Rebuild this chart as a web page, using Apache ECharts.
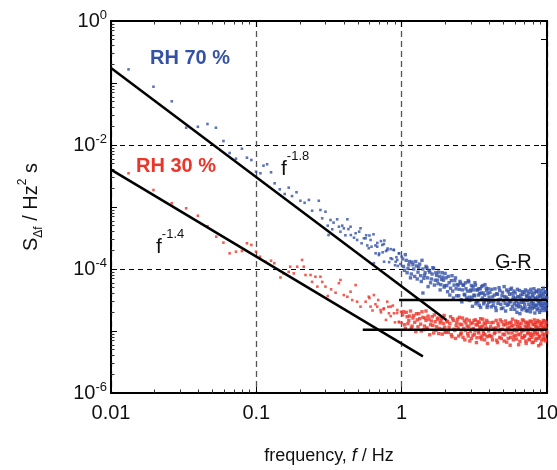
<!DOCTYPE html>
<html>
<head>
<meta charset="utf-8">
<script src="https://cdn.jsdelivr.net/npm/echarts@6/dist/echarts.min.js"></script>
<style>
  html, body { margin: 0; padding: 0; background: #fff; }
  #chart { width: 557px; height: 470px; }
</style>
</head>
<body>
<div id="chart"></div>
<script>
// spectrum points: [frequency Hz, S Hz^2 s]
const rh70 = [
  [0.0132, 0.166], [0.0196, 0.0871], [0.0262, 0.0507], [0.0329, 0.019], [0.0396, 0.0197],
  [0.0461, 0.0218], [0.0527, 0.019], [0.0594, 0.0116], [0.0655, 0.00743], [0.0724, 0.00601],
  [0.0796, 0.00871], [0.0862, 0.00624], [0.0924, 0.00573], [0.0995, 0.00371],
  [0.1067, 0.0035], [0.112, 0.00464], [0.1186, 0.00489], [0.1262, 0.00363], [0.1336, 0.00241],
  [0.1449, 0.00193], [0.1567, 0.00162], [0.167, 0.00205], [0.176, 0.0015], [0.189, 0.00173],
  [0.201, 0.00126], [0.215, 0.00117], [0.23, 0.0013], [0.242, 0.00087], [0.269, 0.00126],
  [0.276, 0.000895], [0.284, 0.000657], [0.299, 0.00084], [0.314, 0.000353], [0.324, 0.000617],
  [0.333, 0.000437], [0.36, 0.000634], [0.37, 0.000481], [0.379, 0.0004], [0.4, 0.000453],
  [0.423, 0.000634], [0.445, 0.000481], [0.447, 0.000353], [0.482, 0.000377], [0.494, 0.000294],
  [0.521, 0.000453], [0.55, 0.000313], [0.565, 0.000313], [0.594, 0.000216], [0.611, 0.000294],
  [0.644, 0.000124], [0.662, 0.000179], [0.679, 0.000229], [0.697, 0.000168], [0.736, 0.000244],
  [0.755, 0.000253], [0.757, 0.000131], [0.796, 0.000202], [0.84, 0.000149], [0.885, 0.000202],
  [0.91, 0.000131], [0.933, 0.00014], [0.957, 0.000179],
  [0.31, 0.0005], [0.34, 0.00056], [0.39, 0.0005], [0.41, 0.00035], [0.43, 0.00044],
  [0.47, 0.00032], [0.51, 0.0004], [0.53, 0.00026], [0.57, 0.00035], [0.58, 0.00024],
  [0.60, 3.47e-4], [0.62, 2.29e-4], [0.64, 3.63e-4], [0.66, 2.4e-4], [0.68, 2.63e-4],
  [0.70, 1.78e-4], [0.72, 2.82e-4], [0.74, 1.86e-4], [0.76, 2.88e-4], [0.78, 1.95e-4],
  [0.80, 2.14e-4], [0.82, 1.29e-4], [0.84, 2.09e-4], [0.86, 1.45e-4], [0.88, 2.04e-4],
  [0.90, 1.15e-4], [0.92, 1.55e-4], [0.94, 1.12e-4], [0.96, 1.78e-4], [0.98, 1.2e-4],
  [1.00, 1.58e-4], [1.03, 1.1e-4], [1.06, 1.7e-4], [1.09, 8.7e-5], [1.12, 1.17e-4],
  [1.15, 7.2e-5], [1.18, 1.29e-4], [1.21, 1.0e-4], [1.25, 1.32e-4], [1.28, 6.9e-5],
  [1.31, 1.07e-4], [1.35, 7.8e-5], [1.38, 1.38e-4], [1.42, 7.1e-5], [1.45, 8.7e-5],
  [1.49, 1.05e-4], [1.52, 5.2e-5], [1.56, 8.9e-5], [1.60, 6.9e-5], [1.64, 1.05e-4],
  [1.68, 5.5e-5], [1.72, 8.7e-5], [1.76, 6.6e-5], [1.80, 8.9e-5], [1.84, 4.6e-5],
  [1.88, 6.8e-5], [1.92, 7.4e-5], [1.96, 5.1e-5], [1.99, 8.5e-5], [1.40, 4.1e-5],
  [2.02, 7.2e-5], [2.07, 4.3e-5], [2.12, 6.0e-5], [2.17, 4.9e-5], [2.22, 7.8e-5],
  [2.27, 3.4e-5], [2.32, 6.5e-5], [2.37, 4.8e-5], [2.42, 5.6e-5], [2.47, 3.7e-5],
  [2.52, 6.3e-5], [2.57, 3.2e-5], [2.62, 4.6e-5], [2.67, 5.5e-5], [2.72, 3.8e-5],
  [2.77, 4.8e-5], [2.82, 3.2e-5], [2.87, 6.5e-5], [2.92, 3.5e-5], [2.97, 4.4e-5],
  [3.02, 5.4e-5], [3.07, 2.5e-5], [3.12, 4.6e-5], [3.17, 3.7e-5], [3.22, 5.5e-5],
  [3.27, 3.0e-5], [3.32, 4.6e-5], [3.37, 3.8e-5], [3.42, 2.6e-5], [3.47, 4.8e-5],
  [3.52, 4.1e-5], [3.57, 3.2e-5], [3.62, 5.4e-5], [3.67, 2.75e-5], [3.72, 3.8e-5],
  [3.77, 3.2e-5], [3.82, 4.9e-5], [3.87, 2.4e-5], [3.92, 4.0e-5], [3.97, 2.9e-5],
  [4.05, 4.2e-5], [4.13, 2.45e-5], [4.22, 3.55e-5], [4.30, 2.95e-5], [4.39, 4.8e-5],
  [4.47, 2.14e-5], [4.56, 3.9e-5], [4.64, 3.16e-5], [4.73, 4.5e-5], [4.81, 2.7e-5],
  [4.90, 3.7e-5], [4.98, 2.35e-5], [5.07, 5.2e-5], [5.15, 2.8e-5], [5.24, 3.5e-5],
  [5.32, 2.6e-5], [5.41, 4.3e-5], [5.49, 3.0e-5], [5.58, 4.7e-5], [5.66, 2.24e-5],
  [5.75, 4.0e-5], [5.83, 3.24e-5], [5.92, 4.4e-5], [6.00, 2.24e-5], [6.09, 3.4e-5],
  [6.17, 2.6e-5], [6.26, 4.7e-5], [6.34, 2.45e-5], [6.43, 3.55e-5], [6.51, 1.9e-5],
  [6.60, 3.8e-5], [6.68, 2.9e-5], [6.77, 4.3e-5], [6.85, 2.35e-5], [6.94, 3.16e-5],
  [7.02, 2.7e-5], [7.11, 4.6e-5], [7.19, 2.14e-5], [7.28, 3.6e-5], [7.36, 3.1e-5],
  [7.45, 4.0e-5], [7.53, 2.3e-5], [7.62, 3.4e-5], [7.70, 2.04e-5], [7.79, 4.2e-5],
  [7.87, 2.75e-5], [7.96, 3.8e-5], [8.04, 2.5e-5], [8.13, 4.8e-5], [8.21, 2.4e-5],
  [8.30, 3.3e-5], [8.38, 2.6e-5], [8.47, 4.4e-5], [8.55, 2.2e-5], [8.64, 3.55e-5],
  [8.72, 2.95e-5], [8.81, 4.1e-5], [8.89, 2.0e-5], [8.98, 3.7e-5], [9.06, 2.6e-5],
  [9.15, 4.5e-5], [9.23, 2.35e-5], [9.32, 3.24e-5], [9.40, 2.8e-5], [9.49, 3.9e-5],
  [9.57, 2.14e-5], [9.66, 4.3e-5], [9.74, 2.45e-5], [9.83, 3.5e-5], [9.91, 2.7e-5]
];

// extra points in the crowded 1-10 Hz band
const rh70Band = [
  [1.015, 1.45e-4], [1.045, 9.5e-5], [1.075, 1.38e-4], [1.105, 1.02e-4], [1.135, 1.32e-4],
  [1.165, 8.3e-5], [1.195, 1.17e-4], [1.23, 7.6e-5], [1.265, 1.12e-4], [1.295, 8.9e-5],
  [1.33, 1.2e-4], [1.365, 6.3e-5], [1.40, 1.0e-4], [1.435, 7.9e-5], [1.47, 1.1e-4],
  [1.505, 7.2e-5], [1.54, 9.5e-5], [1.58, 6.0e-5], [1.62, 8.3e-5], [1.66, 1.02e-4],
  [1.70, 6.6e-5], [1.74, 7.9e-5], [1.78, 5.8e-5], [1.82, 7.6e-5], [1.86, 5.6e-5],
  [1.90, 8.7e-5], [1.94, 6.6e-5], [1.98, 5.4e-5],
  [2.045, 5.4e-5], [2.095, 7.6e-5], [2.145, 3.8e-5], [2.195, 6.5e-5], [2.245, 4.4e-5],
  [2.295, 5.5e-5], [2.345, 7.2e-5], [2.395, 3.7e-5], [2.445, 5.5e-5], [2.495, 4.7e-5],
  [2.545, 5.9e-5], [2.595, 2.95e-5], [2.645, 5.5e-5], [2.695, 3.9e-5], [2.745, 6.0e-5],
  [2.795, 3.4e-5], [2.845, 4.4e-5], [2.895, 6.2e-5], [2.945, 3.1e-5], [2.995, 4.6e-5],
  [3.045, 3.5e-5], [3.095, 5.2e-5], [3.145, 3.8e-5], [3.195, 6.0e-5], [3.245, 2.75e-5],
  [3.295, 4.6e-5], [3.345, 2.95e-5], [3.395, 4.8e-5], [3.445, 4.0e-5], [3.495, 2.4e-5],
  [3.545, 5.2e-5], [3.595, 3.4e-5], [3.645, 4.1e-5], [3.695, 2.95e-5], [3.745, 5.6e-5],
  [3.795, 3.16e-5], [3.845, 4.5e-5], [3.895, 2.6e-5], [3.945, 4.8e-5], [3.995, 3.5e-5],
  [4.09, 3.0e-5], [4.17, 4.7e-5], [4.26, 2.6e-5], [4.34, 3.8e-5], [4.43, 2.4e-5],
  [4.51, 4.0e-5], [4.60, 2.8e-5], [4.68, 5.0e-5], [4.77, 3.24e-5], [4.85, 2.3e-5],
  [4.94, 4.2e-5], [5.02, 3.1e-5], [5.11, 3.6e-5], [5.19, 2.1e-5], [5.28, 4.6e-5],
  [5.36, 3.3e-5], [5.45, 2.7e-5], [5.53, 3.9e-5], [5.62, 2.95e-5], [5.70, 4.9e-5],
  [5.79, 2.5e-5], [5.87, 3.55e-5], [5.96, 2.75e-5], [6.04, 4.1e-5], [6.13, 3.0e-5],
  [6.21, 2.0e-5], [6.30, 3.6e-5], [6.38, 2.8e-5], [6.47, 4.5e-5], [6.55, 2.5e-5],
  [6.64, 3.3e-5], [6.72, 2.2e-5], [6.81, 3.9e-5], [6.89, 2.95e-5], [6.98, 4.2e-5],
  [7.06, 2.4e-5], [7.15, 3.16e-5], [7.23, 3.7e-5], [7.32, 2.1e-5], [7.40, 4.4e-5],
  [7.49, 2.7e-5], [7.57, 3.5e-5], [7.66, 2.45e-5], [7.74, 4.7e-5], [7.83, 3.0e-5],
  [7.91, 2.3e-5], [8.00, 3.55e-5], [8.08, 2.8e-5], [8.17, 4.1e-5], [8.25, 1.95e-5],
  [8.34, 3.4e-5], [8.42, 4.3e-5], [8.51, 2.6e-5], [8.59, 3.16e-5], [8.68, 2.3e-5],
  [8.76, 4.6e-5], [8.85, 2.75e-5], [8.93, 3.6e-5], [9.02, 2.95e-5], [9.10, 2.14e-5],
  [9.19, 4.0e-5], [9.27, 2.6e-5], [9.36, 3.5e-5], [9.44, 4.9e-5], [9.53, 2.4e-5],
  [9.61, 3.24e-5], [9.70, 2.8e-5], [9.78, 4.2e-5], [9.87, 2.24e-5], [9.95, 3.4e-5]
];

const rh30 = [
  [0.0132, 0.0035], [0.0196, 0.00188], [0.0262, 0.00115], [0.0329, 0.000953], [0.0396, 0.000724],
  [0.0461, 0.00049], [0.053, 0.000332], [0.0594, 0.000266], [0.0655, 0.000179], [0.0724, 0.00019],
  [0.0796, 0.000195], [0.0862, 0.00026], [0.0924, 0.000244], [0.0995, 0.00019],
  [0.106, 0.000158], [0.1153, 0.000131], [0.1262, 0.000136], [0.133, 0.000124], [0.1466, 7.3e-5],
  [0.154, 8.5e-5], [0.167, 9.0e-5], [0.171, 0.000109], [0.181, 8.5e-5], [0.191, 0.000109],
  [0.2065, 0.00014], [0.212, 0.000109], [0.218, 8.0e-5], [0.236, 8.0e-5], [0.242, 6.2e-5],
  [0.255, 7.5e-5], [0.263, 5.2e-5], [0.276, 7.5e-5], [0.284, 6.2e-5], [0.299, 5.2e-5],
  [0.31, 3.67e-5], [0.327, 4.7e-5], [0.351, 4.15e-5], [0.37, 5.9e-5], [0.379, 6.65e-5],
  [0.4, 3.8e-5], [0.423, 3.57e-5], [0.445, 4.3e-5], [0.457, 3.16e-5], [0.482, 5.5e-5],
  [0.494, 2.97e-5], [0.521, 2.47e-5], [0.565, 2.97e-5], [0.594, 3.57e-5], [0.611, 2.47e-5],
  [0.644, 3.8e-5], [0.679, 2.47e-5], [0.716, 2.18e-5], [0.755, 2.32e-5], [0.796, 2.97e-5],
  [0.817, 1.93e-5], [0.84, 2.47e-5], [0.885, 1.93e-5], [0.933, 2.18e-5], [0.957, 1.41e-5],
  [0.60, 3.4e-5], [0.63, 2.14e-5], [0.66, 2.7e-5], [0.69, 3.16e-5], [0.72, 2.0e-5],
  [0.75, 2.24e-5], [0.78, 1.51e-5], [0.81, 2.45e-5], [0.84, 1.74e-5], [0.87, 2.57e-5],
  [0.90, 1.38e-5], [0.93, 1.95e-5], [0.96, 1.38e-5], [0.99, 2.04e-5],
  [1.00, 1.35e-5], [1.03, 2.04e-5], [1.06, 1.1e-5], [1.09, 1.7e-5], [1.12, 1.48e-5],
  [1.15, 2.1e-5], [1.18, 1.2e-5], [1.21, 1.78e-5], [1.25, 9.8e-6], [1.28, 1.51e-5],
  [1.31, 1.9e-5], [1.35, 1.29e-5], [1.38, 2.04e-5], [1.42, 1.05e-5], [1.45, 1.62e-5],
  [1.49, 1.12e-5], [1.52, 1.74e-5], [1.56, 8.7e-6], [1.60, 1.45e-5], [1.64, 1.23e-5],
  [1.68, 1.82e-5], [1.72, 1.02e-5], [1.76, 1.55e-5], [1.80, 9.1e-6], [1.84, 1.35e-5],
  [1.88, 1.58e-5], [1.92, 1.07e-5], [1.96, 1.78e-5], [1.99, 9.5e-6], [1.47, 2.1e-5],
  [2.02, 9.8e-6], [2.07, 1.41e-5], [2.12, 1.15e-5], [2.17, 1.7e-5], [2.22, 8.1e-6],
  [2.27, 1.48e-5], [2.32, 1.02e-5], [2.37, 1.23e-5], [2.42, 1.55e-5], [2.47, 8.3e-6],
  [2.52, 1.29e-5], [2.57, 9.3e-6], [2.62, 1.62e-5], [2.67, 1.1e-5], [2.72, 7.2e-6],
  [2.77, 1.35e-5], [2.82, 1.2e-5], [2.87, 8.3e-6], [2.92, 1.48e-5], [2.97, 9.8e-6],
  [3.02, 7.6e-6], [3.07, 1.35e-5], [3.12, 1.1e-5], [3.17, 8.9e-6], [3.22, 1.51e-5],
  [3.27, 6.5e-6], [3.32, 1.26e-5], [3.37, 9.8e-6], [3.42, 1.38e-5], [3.47, 7.9e-6],
  [3.52, 1.15e-5], [3.57, 8.3e-6], [3.62, 1.55e-5], [3.67, 9.1e-6], [3.72, 7.2e-6],
  [3.77, 1.29e-5], [3.82, 1.1e-5], [3.87, 8.1e-6], [3.92, 1.38e-5], [3.97, 1.0e-5],
  [4.05, 8.5e-6], [4.13, 1.35e-5], [4.22, 7.2e-6], [4.30, 1.1e-5], [4.39, 9.5e-6],
  [4.47, 1.48e-5], [4.56, 6.5e-6], [4.64, 1.2e-5], [4.73, 7.9e-6], [4.81, 1.05e-5],
  [4.90, 1.41e-5], [4.98, 8.9e-6], [5.07, 6.9e-6], [5.15, 1.26e-5], [5.24, 1.0e-5],
  [5.32, 1.32e-5], [5.41, 7.6e-6], [5.49, 1.15e-5], [5.58, 5.9e-6], [5.66, 1.38e-5],
  [5.75, 9.3e-6], [5.83, 1.23e-5], [5.92, 8.1e-6], [6.00, 1.07e-5], [6.09, 1.45e-5],
  [6.17, 7.4e-6], [6.26, 1.17e-5], [6.34, 8.7e-6], [6.43, 1.29e-5], [6.51, 6.8e-6],
  [6.60, 1.12e-5], [6.68, 9.8e-6], [6.77, 1.51e-5], [6.85, 7.8e-6], [6.94, 1.02e-5],
  [7.02, 8.3e-6], [7.11, 1.38e-5], [7.19, 6.3e-6], [7.28, 1.2e-5], [7.36, 9.1e-6],
  [7.45, 1.32e-5], [7.53, 7.2e-6], [7.62, 1.1e-5], [7.70, 8.5e-6], [7.79, 1.41e-5],
  [7.87, 7.9e-6], [7.96, 1.05e-5], [8.04, 6.6e-6], [8.13, 1.26e-5], [8.21, 9.5e-6],
  [8.30, 1.35e-5], [8.38, 7.1e-6], [8.47, 1.17e-5], [8.55, 8.9e-6], [8.64, 1.48e-5],
  [8.72, 7.6e-6], [8.81, 1.07e-5], [8.89, 8.1e-6], [8.98, 1.23e-5], [9.06, 6.2e-6],
  [9.15, 1.29e-5], [9.23, 1.0e-5], [9.32, 1.38e-5], [9.40, 7.4e-6], [9.49, 1.12e-5],
  [9.57, 8.7e-6], [9.66, 1.45e-5], [9.74, 6.9e-6], [9.83, 1.15e-5], [9.91, 9.3e-6]
];

const rh30Band = [
  [1.015, 1.82e-5], [1.045, 1.26e-5], [1.075, 2.0e-5], [1.105, 1.32e-5], [1.135, 1.74e-5],
  [1.165, 1.12e-5], [1.195, 1.62e-5], [1.23, 1.38e-5], [1.265, 1.9e-5], [1.295, 1.17e-5],
  [1.33, 1.58e-5], [1.365, 1.0e-5], [1.40, 1.66e-5], [1.435, 1.2e-5], [1.47, 1.48e-5],
  [1.505, 1.07e-5], [1.54, 1.55e-5], [1.58, 1.26e-5], [1.62, 1.7e-5], [1.66, 9.3e-6],
  [1.70, 1.41e-5], [1.74, 1.17e-5], [1.78, 1.62e-5], [1.82, 1.1e-5], [1.86, 1.45e-5],
  [1.90, 8.9e-6], [1.94, 1.32e-5], [1.98, 1.15e-5],
  [2.045, 1.45e-5], [2.095, 9.5e-6], [2.145, 1.32e-5], [2.195, 8.7e-6], [2.245, 1.58e-5],
  [2.295, 1.07e-5], [2.345, 7.6e-6], [2.395, 1.38e-5], [2.445, 1.12e-5], [2.495, 1.66e-5],
  [2.545, 8.9e-6], [2.595, 1.26e-5], [2.645, 7.9e-6], [2.695, 1.45e-5], [2.745, 1.02e-5],
  [2.795, 1.55e-5], [2.845, 9.1e-6], [2.895, 1.17e-5], [2.945, 6.9e-6], [2.995, 1.32e-5],
  [3.045, 1.07e-5], [3.095, 8.5e-6], [3.145, 1.48e-5], [3.195, 1.02e-5], [3.245, 1.26e-5],
  [3.295, 7.8e-6], [3.345, 1.41e-5], [3.395, 9.3e-6], [3.445, 1.15e-5], [3.495, 1.58e-5],
  [3.545, 7.4e-6], [3.595, 1.2e-5], [3.645, 9.8e-6], [3.695, 1.35e-5], [3.745, 8.7e-6],
  [3.795, 1.12e-5], [3.845, 1.48e-5], [3.895, 6.3e-6], [3.945, 1.07e-5], [3.995, 8.3e-6],
  [4.09, 1.17e-5], [4.17, 8.1e-6], [4.26, 1.38e-5], [4.34, 9.1e-6], [4.43, 1.12e-5],
  [4.51, 7.1e-6], [4.60, 1.32e-5], [4.68, 9.8e-6], [4.77, 1.51e-5], [4.85, 7.6e-6],
  [4.94, 1.07e-5], [5.02, 1.26e-5], [5.11, 8.7e-6], [5.19, 1.45e-5], [5.28, 6.6e-6],
  [5.36, 1.1e-5], [5.45, 9.3e-6], [5.53, 1.35e-5], [5.62, 7.9e-6], [5.70, 1.2e-5],
  [5.79, 1.55e-5], [5.87, 7.2e-6], [5.96, 1.02e-5], [6.04, 8.5e-6], [6.13, 1.29e-5],
  [6.21, 1.0e-5], [6.30, 1.41e-5], [6.38, 6.0e-6], [6.47, 1.15e-5], [6.55, 8.9e-6],
  [6.64, 1.32e-5], [6.72, 7.8e-6], [6.81, 1.05e-5], [6.89, 1.48e-5], [6.98, 8.3e-6],
  [7.06, 1.2e-5], [7.15, 6.9e-6], [7.23, 1.1e-5], [7.32, 1.38e-5], [7.40, 9.5e-6],
  [7.49, 1.23e-5], [7.57, 7.4e-6], [7.66, 1.45e-5], [7.74, 9.1e-6], [7.83, 1.07e-5],
  [7.91, 6.5e-6], [8.00, 1.29e-5], [8.08, 8.7e-6], [8.17, 1.51e-5], [8.25, 1.0e-5],
  [8.34, 1.17e-5], [8.42, 7.6e-6], [8.51, 1.35e-5], [8.59, 9.3e-6], [8.68, 1.12e-5],
  [8.76, 5.8e-6], [8.85, 1.41e-5], [8.93, 8.3e-6], [9.02, 1.05e-5], [9.10, 1.32e-5],
  [9.19, 7.1e-6], [9.27, 1.15e-5], [9.36, 8.9e-6], [9.44, 1.48e-5], [9.53, 7.9e-6],
  [9.61, 1.1e-5], [9.70, 1.26e-5], [9.78, 7.4e-6], [9.87, 1.38e-5], [9.95, 9.8e-6]
];

// fitted power laws and generation-recombination plateaus
const fit18 = [[0.01, 0.174], [2.03, 1.5e-5]];
const fit14 = [[0.01, 0.004], [1.40, 3.9e-6]];
const grHigh = [[0.96, 3.16e-5], [10, 3.16e-5]];
const grLow = [[0.54, 1.05e-5], [10, 1.05e-5]];

const BLUE = '#3451a7';
const RED = '#ec3429';
const FONT = 'Liberation Sans, Arial, sans-serif';

const chart = echarts.init(document.getElementById('chart'));

function fitLine(data) {
  return {
    type: 'line', data: data, showSymbol: false, silent: true, z: 5,
    lineStyle: { color: '#000', width: 2.5 }
  };
}

// dots look bigger where the spectrum gets crowded
function dotSize(val) {
  return val[0] > 1 ? 3.4 : 2.6;
}

const tickBase = {
  inside: true, length: 6, lineStyle: { color: '#000', width: 1 }
};
const minorBase = {
  show: true, splitNumber: 9, length: 3.5, lineStyle: { color: '#333', width: 1 }
};
const boldLine = { lineStyle: { color: '#000', width: 2 } };

chart.setOption({
  animation: false,
  textStyle: { fontFamily: FONT },
  grid: {
    left: 111, right: 10, top: 21, bottom: 77,
    outerBoundsMode: 'none', containLabel: false,
    show: true, borderColor: '#000', borderWidth: 2
  },
  xAxis: [{
    type: 'log', logBase: 10, min: 0.01, max: 10,
    name: '{n|frequency, }{i|f}{n| / Hz}',
    nameLocation: 'middle', nameGap: 54,
    nameTextStyle: {
      rich: {
        n: { fontSize: 18, fontFamily: FONT, color: '#111' },
        i: { fontSize: 18, fontFamily: FONT, fontStyle: 'italic', color: '#111' }
      }
    },
    axisLine: boldLine,
    axisTick: tickBase,
    minorTick: minorBase,
    axisLabel: { fontSize: 20, color: '#111', margin: 10, formatter: v => String(v) },
    splitLine: { show: true, lineStyle: { color: '#555', type: [6, 4], width: 1.3 } }
  }, {
    type: 'log', logBase: 10, min: 0.01, max: 10, position: 'top',
    axisLine: boldLine,
    axisTick: tickBase, minorTick: minorBase,
    axisLabel: { show: false }, splitLine: { show: false }
  }],
  yAxis: [{
    type: 'log', logBase: 10, min: 1e-6, max: 1,
    name: '{n|S}{sub|Δf}{n| / Hz}{sup|2}{n| s}',
    nameLocation: 'middle', nameGap: 66, nameRotate: 90,
    nameTextStyle: {
      rich: {
        n: { fontSize: 20, fontFamily: FONT, color: '#111', lineHeight: 28 },
        sub: { fontSize: 12, fontFamily: FONT, color: '#111', verticalAlign: 'bottom', lineHeight: 12 },
        sup: { fontSize: 12, fontFamily: FONT, color: '#111', verticalAlign: 'top', lineHeight: 12 }
      }
    },
    axisLine: boldLine,
    axisTick: tickBase,
    minorTick: minorBase,
    axisLabel: {
      margin: 4,
      formatter: v => {
        const e = Math.round(Math.log10(v));
        return e % 2 === 0 ? '{b|10}{s|' + e + '}' : '';
      },
      rich: {
        b: { fontSize: 20, fontFamily: FONT, color: '#111', lineHeight: 24 },
        s: { fontSize: 13, fontFamily: FONT, color: '#111', verticalAlign: 'top', lineHeight: 14 }
      }
    },
    splitLine: { show: false }
  }, {
    // base-100 axis on the right: its split lines fall on every second decade
    type: 'log', logBase: 100, min: 1e-6, max: 1, position: 'right',
    axisLine: boldLine,
    axisTick: tickBase,
    minorTick: { show: true, splitNumber: 2, length: 6, lineStyle: { color: '#000', width: 1 } },
    axisLabel: { show: false },
    splitLine: { show: true, lineStyle: { color: '#000', type: [5, 4], width: 1 } }
  }],
  series: [
    {
      type: 'scatter', name: 'RH 70 %', data: rh70.concat(rh70Band),
      symbol: 'rect', symbolSize: dotSize,
      itemStyle: { color: BLUE }, z: 3, silent: true
    },
    {
      type: 'scatter', name: 'RH 30 %', data: rh30.concat(rh30Band),
      symbol: 'rect', symbolSize: dotSize,
      itemStyle: { color: RED }, z: 3, silent: true
    },
    fitLine(fit18),
    fitLine(fit14),
    fitLine(grHigh),
    fitLine(grLow)
  ],
  graphic: [
    { type: 'text', left: 150, top: 48, style: { text: 'RH 70 %', fill: BLUE, font: 'bold 20px ' + FONT } },
    { type: 'text', left: 136, top: 156, style: { text: 'RH 30 %', fill: RED, font: 'bold 20px ' + FONT } },
    {
      type: 'text', left: 281, top: 150,
      style: {
        text: '{f|f}{e|-1.8}', fill: '#111',
        rich: {
          f: { fontSize: 21, fontFamily: FONT, lineHeight: 30, verticalAlign: 'bottom' },
          e: { fontSize: 13, fontFamily: FONT, lineHeight: 14, verticalAlign: 'top' }
        }
      }
    },
    {
      type: 'text', left: 156, top: 228,
      style: {
        text: '{f|f}{e|-1.4}', fill: '#111',
        rich: {
          f: { fontSize: 21, fontFamily: FONT, lineHeight: 30, verticalAlign: 'bottom' },
          e: { fontSize: 13, fontFamily: FONT, lineHeight: 14, verticalAlign: 'top' }
        }
      }
    },
    { type: 'text', left: 495, top: 252, style: { text: 'G-R', fill: '#111', font: '20px ' + FONT } }
  ]
});
</script>
</body>
</html>
